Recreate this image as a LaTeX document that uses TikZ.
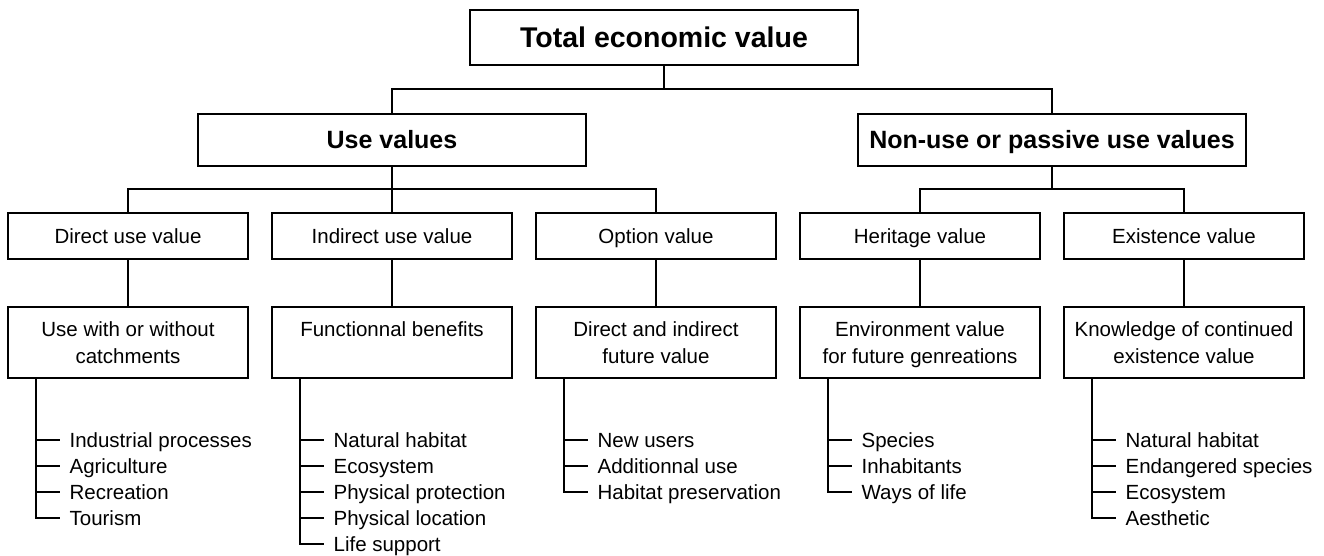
\documentclass[tikz,border=0pt]{standalone}
\usepackage{fontspec}
\setmainfont{Liberation Sans}
\begin{document}
\begin{tikzpicture}[x=1pt,y=-1pt,line width=2pt,
  box/.style={draw,rectangle,inner sep=0pt,align=center,font=\fontsize{20.5}{27}\selectfont},
  small/.style={box,minimum width=240pt,minimum height=46pt,text height=14.7pt,text depth=0pt},
  tall/.style={box,minimum width=240pt,minimum height=71pt,text height=41.7pt,text depth=0pt},
  big/.style={box,minimum width=388pt,minimum height=52pt,text height=17.9pt,text depth=0pt,font=\bfseries\fontsize{25}{30}\selectfont},
  top/.style={box,minimum width=388pt,minimum height=55.5pt,text height=20.4pt,text depth=0pt,font=\bfseries\fontsize{28.5}{32}\selectfont},
  item/.style={anchor=west,inner xsep=8.6pt,inner ysep=0pt,text height=14.7pt,text depth=0pt,font=\fontsize{20.5}{27}\selectfont},
  link/.style={line width=2pt}]
\useasboundingbox (0,0) rectangle (1324,556);
% level 1
\node[top] (tot) at (664,37.75) {Total economic value};
% level 2
\node[big] (use) at (392,140) {Use values};
\node[big] (non) at (1052,140) {Non-use or passive use values};
% level 3
\node[small] (dir) at (128,236) {Direct use value};
\node[small] (ind) at (392,236) {Indirect use value};
\node[small] (opt) at (656,236) {Option value};
\node[small] (her) at (920,236) {Heritage value};
\node[small] (exi) at (1184,236) {Existence value};
% level 4
\node[tall] (dir-b) at (128,342.5) {Use with or without\\catchments};
\node[tall] (ind-b) at (392,342.5) {Functionnal benefits\\\mbox{}};
\node[tall] (opt-b) at (656,342.5) {Direct and indirect\\future value};
\node[tall] (her-b) at (920,342.5) {Environment value\\for future genreations};
\node[tall] (exi-b) at (1184,342.5) {Knowledge of continued\\existence value};
% connectors level 1-2
\draw[link] (tot.south) -- (tot.south |- 0,89);
\draw[link] (use.north) -- (use.north |- 0,89) -- (non.north |- 0,89) -- (non.north);
% connectors level 2-3
\draw[link] (use.south) -- (ind.north);
\draw[link] (dir.north) -- (dir.north |- 0,189) -- (opt.north |- 0,189) -- (opt.north);
\draw[link] (non.south) -- (non.south |- 0,189);
\draw[link] (her.north) -- (her.north |- 0,189) -- (exi.north |- 0,189) -- (exi.north);
% connectors level 3-4
\foreach \nm in {dir,ind,opt,her,exi}{
  \draw[link] (\nm.south) -- (\nm-b.north);
}
% lists
\foreach \nm/\items in {
  dir/{Industrial processes,Agriculture,Recreation,Tourism},
  ind/{Natural habitat,Ecosystem,Physical protection,Physical location,Life support},
  opt/{New users,Additionnal use,Habitat preservation},
  her/{Species,Inhabitants,Ways of life},
  exi/{Natural habitat,Endangered species,Ecosystem,Aesthetic}}{
  \coordinate (\nm-v) at ([xshift=29pt]\nm-b.south west);
  \foreach \t [count=\k] in \items {
    \node[item] (\nm-i\k) at ([xshift=24pt,yshift={-(61+26*(\k-1))*1pt}]\nm-v) {\t};
    \draw[link] (\nm-v) |- (\nm-i\k.west);
  }
}
\end{tikzpicture}
\end{document}
